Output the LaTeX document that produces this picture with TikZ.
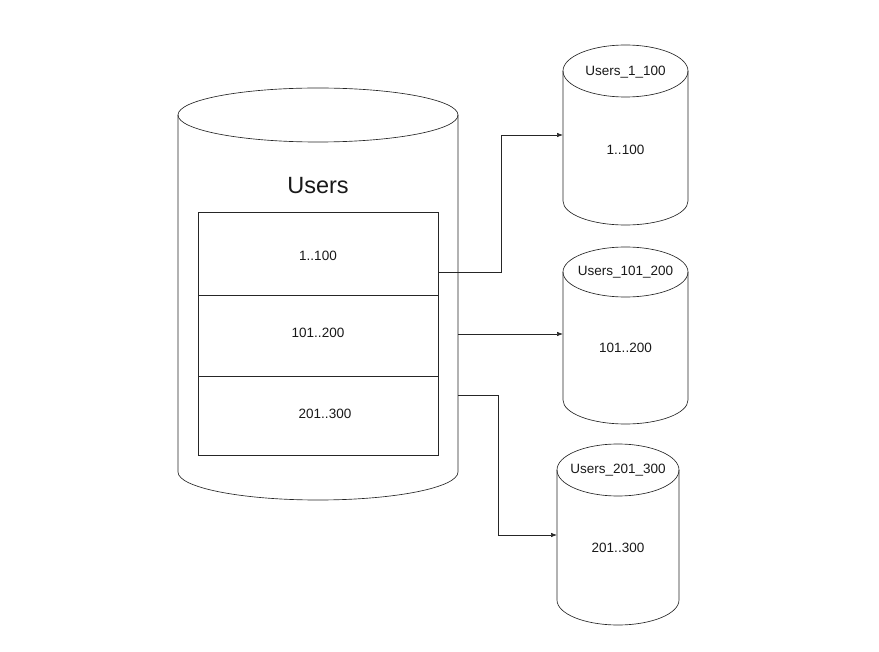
\documentclass[tikz,border=0pt]{standalone}
\usepackage{fontspec}
\setmainfont{Liberation Sans}
\usetikzlibrary{arrows.meta}
\begin{document}
\begin{tikzpicture}[x=1pt,y=-1pt,
  ln/.style={draw=black!85,line width=0.65pt},
  lbl/.style={font=\fontsize{13.5}{16}\selectfont,text=black!90,inner sep=0pt},
  big/.style={font=\fontsize{23.5}{28}\selectfont,text=black!90,inner sep=0pt},
  row/.style={ln,rectangle,minimum width=240pt,inner sep=0pt,anchor=north west},
  conn/.style={ln,-{Latex[length=6pt,width=4.5pt]}}]
\useasboundingbox (0,0) rectangle (879,652);
% big cylinder
\draw[ln,fill=white] (178,115) -- (178,472) arc[start angle=180,end angle=0,x radius=140,y radius=28] -- (458,115);
\draw[ln] (318,115) ellipse[x radius=140,y radius=27];
\node[big] (users) at (318,186) {Users};
\node[row,minimum height=83pt] (r1) at (198,212) {};
\node[row,minimum height=81pt] (r2) at (198,295) {};
\node[row,minimum height=79pt] (r3) at (198,376) {};
\node[lbl] (t1) at (318,256) {1..100};
\node[lbl] (t2) at (318,333) {101..200};
\node[lbl] (t3) at (325,414) {201..300};
% small cylinders
\draw[ln,fill=white] (563,71) -- (563,201) arc[start angle=180,end angle=0,x radius=62.5,y radius=24] -- (688,71);
\draw[ln] (625.5,71) ellipse[x radius=62.5,y radius=26];
\node[lbl] (n1) at (625.5,72) {Users\_1\_100};
\node[lbl] (v1) at (625.5,150) {1..100};
\draw[ln,fill=white] (563,272) -- (563,400) arc[start angle=180,end angle=0,x radius=62.5,y radius=24] -- (688,272);
\draw[ln] (625.5,272) ellipse[x radius=62.5,y radius=25];
\node[lbl] (n2) at (625.5,272) {Users\_101\_200};
\node[lbl] (v2) at (625.5,348) {101..200};
\draw[ln,fill=white] (557,470) -- (557,600) arc[start angle=180,end angle=0,x radius=61,y radius=25] -- (679,470);
\draw[ln] (618,470) ellipse[x radius=61,y radius=26];
\node[lbl] (n3) at (618,470) {Users\_201\_300};
\node[lbl] (v3) at (618,548) {201..300};
% connector end points
\coordinate (s1) at (438,272);
\coordinate (s2) at (458,334);
\coordinate (s3) at (458,395);
\coordinate (e1) at (563,135);
\coordinate (e2) at (563,334);
\coordinate (e3) at (557,535);
\draw[conn] (s1) -- (501,272) |- (e1);
\draw[conn] (s2) -- (e2);
\draw[conn] (s3) -- (498,395) |- (e3);
\end{tikzpicture}
\end{document}
